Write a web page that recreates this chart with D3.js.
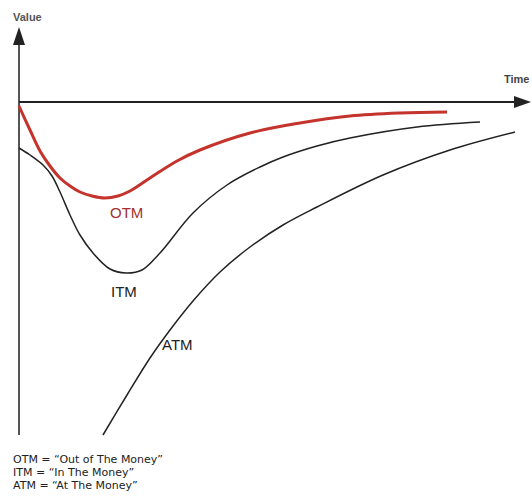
<!DOCTYPE html>
<html>
<head>
<meta charset="utf-8">
<script src="https://cdn.jsdelivr.net/npm/d3@7"></script>
<style>
  body { margin: 0; background: #fff; }
  svg { display: block; }
</style>
</head>
<body>
<div id="chart"></div>
<script>
// time since entry vs value (arbitrary units)
const otmTime  = [0, 11, 21, 31, 41, 51, 61, 73, 86, 99, 111, 131, 158, 181, 231, 281, 331, 381, 428];
const otmValue = [-4, -28, -49, -64, -76, -84, -90, -94, -96, -94, -89, -76, -59, -48, -31, -21, -14, -11, -10];

const itmTime  = [0, 11, 24, 33, 41, 51, 61, 74, 91, 107, 123, 141, 174, 208, 241, 264, 298, 331, 398, 461];
const itmValue = [-46, -53, -63, -74, -90, -113, -133, -151, -167, -171, -168, -151, -111, -83, -65, -55, -44, -36, -25, -20];

const atmTime  = [84, 108, 131, 151, 174, 201, 231, 264, 298, 364, 431, 496];
const atmValue = [-333, -293, -256, -228, -199, -170, -145, -123, -105, -73, -48, -30];

const legendLines = [
    "OTM = \u201cOut of The Money\u201d",
    "ITM = \u201cIn The Money\u201d",
    "ATM = \u201cAt The Money\u201d"
];

const width = 532, height = 502;
const svg = d3.select("#chart").append("svg")
    .attr("width", width)
    .attr("height", height);

const x = d3.scaleLinear().domain([0, 500]).range([19, 519]);
const y = d3.scaleLinear().domain([0, -335]).range([102, 437]);

const line = d3.line()
    .x(d => x(d[0]))
    .y(d => y(d[1]))
    .curve(d3.curveCatmullRom.alpha(0.5));

const zip = (a, b) => a.map((v, i) => [v, b[i]]);

// axes
svg.append("line")
    .attr("x1", x(0)).attr("x2", x(0))
    .attr("y1", 40).attr("y2", y(-333))
    .attr("stroke", "#555").attr("stroke-width", 2);
svg.append("path")
    .attr("d", `M${x(0)},27 L${x(0) - 6},45 L${x(0) + 6},45 Z`)
    .attr("fill", "#222");

svg.append("line")
    .attr("x1", x(0)).attr("x2", 518)
    .attr("y1", y(0)).attr("y2", y(0))
    .attr("stroke", "#222").attr("stroke-width", 2);
svg.append("path")
    .attr("d", `M531,${y(0)} L514,${y(0) - 6} L514,${y(0) + 6} Z`)
    .attr("fill", "#222");

svg.append("text")
    .attr("x", 13).attr("y", 21)
    .style("font-family", "Arial, 'Liberation Sans', sans-serif")
    .style("font-size", "11px")
    .style("font-weight", "bold")
    .style("fill", "#555")
    .text("Value");

svg.append("text")
    .attr("x", 504).attr("y", 83)
    .style("font-family", "Arial, 'Liberation Sans', sans-serif")
    .style("font-size", "11px")
    .style("font-weight", "bold")
    .style("fill", "#444")
    .text("Time");

// curves
svg.append("path")
    .datum(zip(itmTime, itmValue))
    .attr("d", line)
    .attr("fill", "none")
    .attr("stroke", "#222")
    .attr("stroke-width", 1.5);

svg.append("path")
    .datum(zip(atmTime, atmValue))
    .attr("d", line)
    .attr("fill", "none")
    .attr("stroke", "#222")
    .attr("stroke-width", 1.5);

svg.append("path")
    .datum(zip(otmTime, otmValue))
    .attr("d", line)
    .attr("fill", "none")
    .attr("stroke", "#c4342c")
    .attr("stroke-width", 3);

// curve labels
const lbl = (tx, ty, t, c) => svg.append("text")
    .attr("x", tx).attr("y", ty)
    .style("font-family", "Arial, 'Liberation Sans', sans-serif")
    .style("font-size", "15px")
    .style("fill", c)
    .text(t);
lbl(110, 218, "OTM", "#a3302c");
lbl(111, 297, "ITM", "#222");
lbl(162, 350, "ATM", "#222");

// footnote
svg.append("g").selectAll("text")
    .data(legendLines)
    .enter()
    .append("text")
    .attr("x", 13)
    .attr("y", (d, i) => 463 + i * 13)
    .style("font-family", "'DejaVu Sans', Verdana, sans-serif")
    .style("font-size", "11px")
    .style("fill", "#222")
    .text(d => d);
</script>
</body>
</html>
